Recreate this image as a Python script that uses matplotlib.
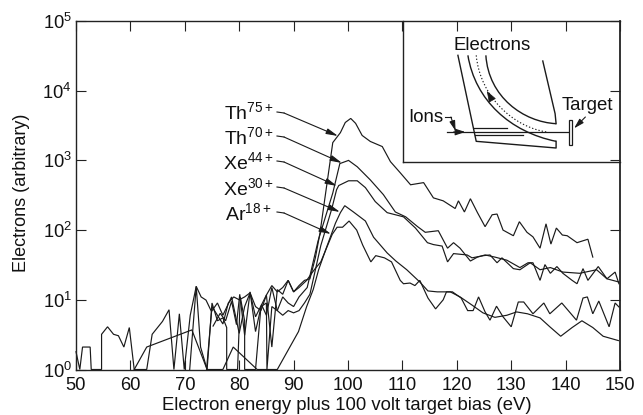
import matplotlib
matplotlib.use('Agg')
import matplotlib.pyplot as plt
from matplotlib.patches import PathPatch, Rectangle
from matplotlib.path import Path

plt.rcParams['font.family'] = ['Liberation Sans', 'DejaVu Sans']
plt.rcParams['mathtext.fontset'] = 'custom'
plt.rcParams['mathtext.rm'] = 'Liberation Sans'
plt.rcParams['mathtext.default'] = 'regular'

# Spectra (energy in eV, electrons in arbitrary units)
th75_x = [74, 75, 76, 77, 78, 79, 80, 81, 82, 83, 84, 85, 86, 87, 88, 89, 90, 91, 92, 93, 94, 94.85,
          97.2, 98.6, 99.5, 100.5, 101.4, 102.6, 104.1, 106.3, 107.8, 109.6, 111.5, 113.9, 115.7, 117.5,
          119.7, 120.3, 121.4, 122.5, 123.8, 125.2, 126.5, 127.4, 128.5, 130.4, 131.5, 132.9, 134, 135.3,
          136.4, 137.3, 138.3, 139.4, 140.3, 142.1, 144.1, 145]
th75_y = [1, 8, 6, 4.5, 9, 11, 10, 11, 12.6, 8, 7, 11.7, 16, 13, 15, 19, 13, 16, 19, 20, 40, 91,
          1800, 2500, 3500, 4000, 3400, 2280, 1870, 1580, 960, 665, 447, 480, 290, 263,
          204, 263, 182, 282, 178, 112, 166, 170, 100, 83, 132, 93, 80, 55,
          123, 63, 107, 85, 83, 66, 74, 41]

th70_x = [70.9, 72.1, 72.9, 74.1, 75, 76, 77, 77.7, 77.7, 79.7, 80.2, 81, 81, 83, 84, 85, 85.1, 86, 87,
          88, 89, 90, 91, 92.5, 94.5, 97.2, 98.5, 100.1, 101.7, 104.1, 106.5, 108.7, 110.6, 112.8, 114.2,
          116.6, 118.3, 119.4, 120.6, 122.5, 123.8, 125.2, 127, 129.2, 131.6, 133.1, 134, 135.3, 136.2,
          137.2, 138.4, 139.5, 141.2, 142.1, 143.2, 144.1, 146, 147.6, 149.1, 149.8]
th70_y = [1, 15.6, 2.1, 1, 9, 5, 5.5, 4, 1, 1, 11, 5, 1, 1, 8, 9, 1, 8, 7,
          11, 9, 8, 11, 15, 70, 340, 900, 1000, 810, 525, 323, 182, 155, 112, 93,
          98, 55, 66, 55, 36, 41, 44, 41, 37, 29, 34, 34, 19, 32,
          24, 30, 24, 19, 17, 28, 19, 30, 20, 25, 17]

xe44_x = [75.2, 76.5, 77.5, 78.6, 79.5, 80.1, 81, 82, 83, 84.1, 85, 86, 87, 88, 89, 90, 91, 92, 93, 95,
          97, 97.9, 98.3, 100.1, 101.7, 103.2, 105, 107.2, 110.2, 112.4, 114.6, 115.7, 117.3, 118.3, 119.4,
          121.9, 122.8, 124.9, 126.1, 127.4, 128.3, 130.4, 131.6, 133.5, 135.3, 137.2, 139.5, 142.6, 145.7,
          147.6, 149.8]
xe44_y = [4.2, 6.4, 5, 9.5, 4.4, 12, 3.1, 13, 3.5, 8.5, 6, 15, 7, 6, 7, 6.5, 7, 9, 12, 60,
          200, 380, 436, 510, 510, 407, 257, 178, 155, 107, 66, 62, 59, 35, 46,
          44, 40, 43, 44, 34, 40, 28, 27, 34, 27, 29, 25, 24, 27,
          20, 18]

xe30_x = [60.7, 63, 71.3, 74.1, 77, 78.9, 83.3, 87, 90.9, 92.4, 93.6, 94.6, 96, 97.7, 98.6, 99.4, 101, 103.2,
          104.7, 107.2, 108.8, 110.8, 113.2, 114.7, 116.4, 118.8, 120.6, 122.8, 124.8, 127, 129.2, 131, 133,
          135.3, 137.1, 139.1, 141.2, 143, 145, 146.9, 149.7]
xe30_y = [1, 2.1, 3.7, 1, 1, 2.1, 1, 1, 3.5, 8, 14, 27, 55, 126, 178, 224, 182, 135,
          79, 47, 36, 27, 18, 13.4, 13, 13, 11, 8.4, 6.5, 5.6, 6, 6.7, 6.3,
          5.5, 4.1, 3, 4, 5, 4, 3, 2.6]

ar18_x = [50, 50.7, 51.2, 52.6, 52.8, 54.7, 54.7, 55.8, 56.9, 57.8, 58.8, 59.8, 60.7, 63, 64, 65.9, 67.1, 68,
          69, 69.9, 71, 72.1, 73, 73.9, 74.9, 76, 77, 78.6, 80, 81, 82, 83, 85, 86, 87, 88, 89, 90, 91, 92.4,
          93.8, 95, 97.1, 98, 99, 100.2, 101.6, 102.7, 104.2, 105.1, 106.7, 108, 109.6, 110.2, 111.4, 112.3,
          113.2, 114.7, 116.1, 117.5, 118.1, 119.2, 120.8, 122, 123, 124, 125.2, 126.1, 127.3, 128.5, 130,
          131.3, 132.3, 134, 136, 137.1, 139.3, 142, 143.2, 144, 145, 146.1, 148, 149.1, 149.8]
ar18_y = [1.8, 1, 2.1, 2.1, 1, 1, 3.2, 4.1, 3.2, 3.05, 2.1, 4, 1, 1, 3.2, 4.9, 7.2, 1,
          6.3, 1, 6, 15.6, 11, 9.9, 6.8, 9, 6, 11, 3.3, 8, 12.6, 5.7, 11.7, 2.1, 14, 12, 19, 13, 15, 19,
          27, 35, 87, 110, 110, 135, 100, 61, 35, 43, 40, 35, 19, 17, 17.4, 16,
          19, 10.6, 7.4, 10, 13, 13, 10.6, 7, 7, 11, 6.7, 5.1, 8.1, 5.7, 4.1,
          9.3, 9.3, 6.3, 9, 6.3, 9, 5.1, 10.6, 11, 6.3, 9.6, 4.1, 9, 7.9]

x_ticks = [50, 60, 70, 80, 90, 100, 110, 120, 130, 140, 150]
y_ticks = [1, 10, 100, 1000, 10000, 100000]

# Label text and leader placement, all in picture pixels
labels = ['Th^{75+}', 'Th^{70+}', 'Xe^{44+}', 'Xe^{30+}', 'Ar^{18+}']
label_pos = [(224, 119), (224, 144), (223, 169), (223, 195), (225, 220)]
leader_y = [112, 136, 161, 187, 212]
tips = [(338, 136), (342, 163), (337, 186), (340, 212), (331, 234)]

W, H = 643, 415
def fx(p):
    return p / W
def fy(p):
    return 1 - p / H

fig = plt.figure(figsize=(6.43, 4.15), dpi=100)
ax = fig.add_axes([fx(76), fy(369.5), (620 - 76) / W, (369.5 - 21) / H])
ax.set_yscale('log')
ax.set_xlim(50, 150)
ax.set_ylim(1, 1e5)

for xs, ys in [(th75_x, th75_y), (th70_x, th70_y), (xe44_x, xe44_y), (xe30_x, xe30_y), (ar18_x, ar18_y)]:
    ax.plot(xs, ys, color='#1a1a1a', lw=0.85, clip_on=False, solid_joinstyle='miter')

ax.set_xticks(x_ticks)
ax.set_yticks(y_ticks)
ax.minorticks_off()
ax.tick_params(axis='both', which='major', direction='in', length=7, width=0.8,
               top=True, right=True, labelsize=13.2, color='#222222', labelcolor='#111111')
ax.tick_params(axis='x', pad=5.5)
ax.tick_params(axis='y', pad=3)
for s in ax.spines.values():
    s.set_linewidth(1.0)
    s.set_color('#222222')
ax.spines['right'].set_linewidth(1.3)

fig.text(fx(347), fy(410), 'Electron energy plus 100 volt target bias (eV)', ha='center', va='baseline',
         fontsize=13.3, color='#111111')
fig.text(fx(30), fy(193), 'Electrons (arbitrary)', rotation=90, ha='right', va='center',
         fontsize=13, color='#111111')

for lab, pos, ly, tip in zip(labels, label_pos, leader_y, tips):
    fig.text(fx(pos[0]), fy(pos[1]), '$' + lab + '$', ha='left', va='baseline', fontsize=14, color='#111111')
    fig.add_artist(plt.Line2D([fx(277), fx(284)], [fy(ly), fy(ly + 1)], color='#1a1a1a', lw=0.8))
    ax.annotate('', xy=(fx(tip[0]), fy(tip[1])), xycoords='figure fraction',
                xytext=(fx(284), fy(ly + 1)), textcoords='figure fraction',
                arrowprops=dict(arrowstyle='-|>,head_length=0.7,head_width=0.17', color='#1a1a1a', lw=0.8,
                                shrinkA=0, shrinkB=0))

# Inset sketch of the spectrometer, drawn in its own pixel-like frame
ins = fig.add_axes([fx(403), fy(162), (620 - 403) / W, (162 - 21) / H])
ins.set_xlim(8, 660)
ins.set_ylim(485, 62)
ins.axis('off')
ins.patch.set_alpha(0)
ink = '#1a1a1a'
ins.plot([8, 8], [62, 485], color='#222222', lw=1.0, clip_on=False)
ins.plot([8, 660], [485, 485], color='#222222', lw=1.0, clip_on=False)

ins.plot([173, 228, 468, 468], [165, 423, 443, 423], color=ink, lw=1.0)
ins.add_patch(PathPatch(Path([(203, 165), (225, 300), (330, 395), (468, 423)],
                             [Path.MOVETO, Path.CURVE4, Path.CURVE4, Path.CURVE4]), fc='none', ec=ink, lw=1.0))
ins.add_patch(PathPatch(Path([(257, 165), (265, 290), (370, 365), (468, 370)],
                             [Path.MOVETO, Path.CURVE4, Path.CURVE4, Path.CURVE4]), fc='none', ec=ink, lw=1.0))
ins.plot([468, 465, 428], [370, 340, 182], color=ink, lw=1.0)
ins.add_patch(PathPatch(Path([(228, 165), (240, 290), (340, 380), (440, 395)],
                             [Path.MOVETO, Path.CURVE4, Path.CURVE4, Path.CURVE4]), fc='none', ec=ink, lw=0.8,
                        ls=(0, (1.2, 1.8))))
ins.annotate('', xy=(260, 272), xytext=(275, 298),
             arrowprops=dict(arrowstyle='-|>,head_length=0.7,head_width=0.25', color=ink, lw=0.5, shrinkA=0, shrinkB=0))
ins.plot([222, 320], [383, 383], color=ink, lw=0.9)
ins.plot([225, 370], [405, 405], color=ink, lw=0.9)
ins.plot([140, 507], [395, 395], color=ink, lw=0.9)
ins.annotate('', xy=(195, 395), xytext=(160, 395),
             arrowprops=dict(arrowstyle='-|>,head_length=0.6,head_width=0.2', color=ink, lw=0.8, shrinkA=0, shrinkB=0))
ins.add_patch(Rectangle((507, 358), 10, 77, fc='white', ec=ink, lw=0.9, zorder=3))
ins.plot([135, 152], [350, 350], color=ink, lw=0.8)
ins.annotate('', xy=(166, 392), xytext=(152, 350),
             arrowprops=dict(arrowstyle='-|>,head_length=0.6,head_width=0.17', color=ink, lw=0.8, shrinkA=0, shrinkB=0))
ins.annotate('', xy=(522, 384), xytext=(556, 350),
             arrowprops=dict(arrowstyle='-|>,head_length=0.6,head_width=0.17', color=ink, lw=0.8, shrinkA=0, shrinkB=0))
ins.text(276, 148, 'Electrons', ha='center', va='baseline', fontsize=13.4, color='#111111')
ins.text(562, 330, 'Target', ha='center', va='baseline', fontsize=13.4, color='#111111')
ins.text(76, 365, 'Ions', ha='center', va='baseline', fontsize=13.4, color='#111111')

fig.savefig('out.png', dpi=100)
